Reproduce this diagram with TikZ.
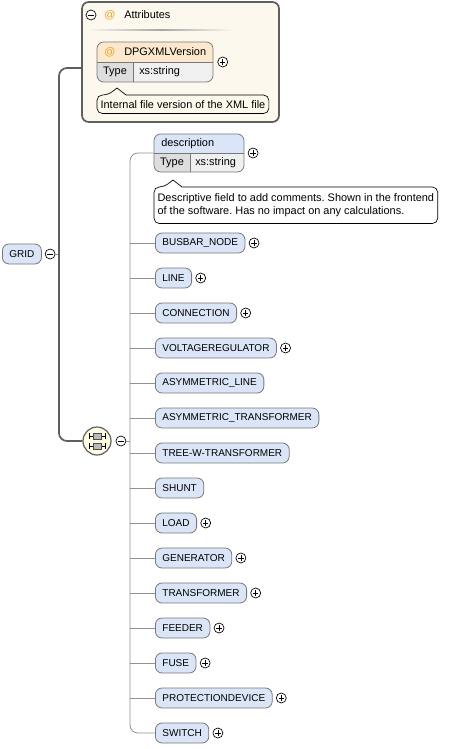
\documentclass[tikz,border=0pt]{standalone}
\usepackage{fontspec}
\setmainfont{Liberation Sans}
\usetikzlibrary{positioning}
\frenchspacing

\definecolor{elemfill}{RGB}{218,229,247}
\definecolor{elemline}{RGB}{120,120,120}
\definecolor{attrback}{RGB}{253,248,237}
\definecolor{attrhead}{RGB}{252,233,205}
\definecolor{typecell}{RGB}{222,222,222}
\definecolor{valcell}{RGB}{240,240,240}
\definecolor{atorange}{RGB}{238,160,40}
\definecolor{seqback}{RGB}{255,251,226}
\definecolor{darklink}{RGB}{95,95,95}
\definecolor{lightlink}{RGB}{145,145,145}

\tikzset{
  captxt/.style={font=\fontsize{7.5}{9}\selectfont, inner sep=0pt},
  lowtxt/.style={font=\fontsize{8.2}{9.75}\selectfont, inner sep=0pt},
  elem/.style={captxt, draw=elemline, line width=0.6pt, fill=elemfill, rounded corners=5pt,
    minimum height=15pt, inner xsep=5.25pt, anchor=west},
  btn/.style={circle, draw=black, fill=white, line width=0.5pt, minimum size=7.5pt, inner sep=0pt},
  plusbtn/.style={btn, path picture={
      \draw[line width=0.5pt] ([xshift=-2pt]path picture bounding box.center) -- ([xshift=2pt]path picture bounding box.center)
        ([yshift=-2pt]path picture bounding box.center) -- ([yshift=2pt]path picture bounding box.center);}},
  minusbtn/.style={btn, path picture={
      \draw[line width=0.5pt] ([xshift=-2pt]path picture bounding box.center) -- ([xshift=2pt]path picture bounding box.center);}},
  tipnode/.style={lowtxt, align=left, inner xsep=2.5pt},
  tipline/.style={draw=black, line width=0.5pt},
  childlink/.style={draw=lightlink, line width=0.6pt},
  mainlink/.style={draw=darklink, line width=1.3pt},
}

\begin{document}
\begin{tikzpicture}[x=0.75pt, y=-0.75pt]
\useasboundingbox (0,0) rectangle (466,749);

% attributes group
\node[draw=darklink, line width=1.3pt, fill=attrback, rounded corners=5pt,
  minimum width=147.75pt, minimum height=90pt] (attrs) at (180.5,62) {};
\shade[left color=attrback, right color=attrback, middle color=gray!70] (87,29.5) rectangle (233,31);
\node[minusbtn] (attrsminus) at (91,15) {};
\node[lowtxt, text=atorange] (attrsat) at (110,15) {@};
\node[lowtxt, anchor=west] (attrstitle) at (124,15) {Attributes};

\begin{scope}
\clip[rounded corners=5pt] (97,42) rectangle (213,82);
\fill[attrhead] (97,42) rectangle (213,62);
\fill[typecell] (97,62) rectangle (133,82);
\fill[valcell] (133,62) rectangle (213,82);
\end{scope}
\node[draw=elemline, line width=0.6pt, rounded corners=5pt, minimum width=87pt, minimum height=30pt] (version) at (155,62) {};
\draw[elemline, line width=0.5pt] (version.west) -- (version.east) (133,62) -- (133,82);
\node[lowtxt, text=atorange] (versionat) at (110,52) {@};
\node[lowtxt, anchor=west] (versionname) at (124,52) {DPGXMLVersion};
\node[lowtxt] (versiontype) at (115,72) {Type};
\node[lowtxt, anchor=west] (versionval) at (139,72) {xs:string};
\node[plusbtn, right=3pt of version] (versionplus) {};

\node[tipnode, minimum height=13.5pt, anchor=north west] (versiontip) at (97,95) {Internal file version of the XML file};
\draw[tipline, rounded corners=4pt] (versiontip.north west) ++(11,0) [sharp corners] -- ++(9,-7) -- ++(9,7)
  [rounded corners=4pt] -| (versiontip.south east) -| (versiontip.north west) -- cycle;

% root
\node[elem] (grid) at (2,254) {GRID};
\node[minusbtn, right=2.25pt of grid] (gridminus) {};
\coordinate (gridtrunk) at (59,254);
\draw[childlink] (gridminus) -- (gridtrunk);

% sequence
\node[circle, draw=darklink, line width=0.9pt, fill=seqback, minimum size=21pt] (seq) at (97,441) {};
\foreach \dy in {-5,5} {
  \draw[line width=0.6pt] ([shift={(-8,\dy)}]seq.center) -- ++(16,0);
  \draw[line width=0.6pt] ([shift={(-8,\dy-3)}]seq.center) -- ++(0,6);
  \draw[line width=0.6pt] ([shift={(8,\dy-3)}]seq.center) -- ++(0,6);
  \draw[line width=0.5pt, draw=gray!60!black, fill=gray!55] ([shift={(-4,\dy-3)}]seq.center) rectangle ++(8,6);
}
\node[minusbtn, right=3pt of seq] (seqminus) {};
\coordinate (seqtrunk) at (130,441);
\draw[childlink] (seqminus) -- (seqtrunk);

\draw[mainlink, rounded corners=6pt] ([yshift=-4.5pt]attrs.west) -| (gridtrunk) |- (seq);

% description
\begin{scope}
\clip[rounded corners=5pt] (154,134) rectangle (244,172);
\fill[elemfill] (154,134) rectangle (244,153);
\fill[typecell] (154,153) rectangle (190,172);
\fill[valcell] (190,153) rectangle (244,172);
\end{scope}
\node[draw=elemline, line width=0.6pt, rounded corners=5pt, minimum width=67.5pt, minimum height=28.5pt] (desc) at (199,153) {};
\draw[elemline, line width=0.5pt] (desc.west) -- (desc.east) (190,153) -- (190,172);
\node[lowtxt, anchor=west] (descname) at (161,144) {description};
\node[lowtxt] (desctype) at (172,163) {Type};
\node[lowtxt, anchor=west] (descval) at (195,163) {xs:string};
\node[plusbtn, right=2.5pt of desc] (descplus) {};

\node[tipnode, minimum height=27pt, anchor=north west] (desctip) at (154,187)
  {Descriptive field to add comments. Shown in the frontend\\of the software. Has no impact on any calculations.};
\draw[tipline, rounded corners=4pt] (desctip.north west) ++(10,0) [sharp corners] -- ++(9,-7) -- ++(9,7)
  [rounded corners=4pt] -| (desctip.south east) -| (desctip.north west) -- cycle;

% children
\node[elem] (busbar) at (155,243) {BUSBAR\_NODE};
\node[elem] (line) at (155,278) {LINE};
\node[elem] (connection) at (155,313) {CONNECTION};
\node[elem] (voltreg) at (155,348) {VOLTAGEREGULATOR};
\node[elem] (asymline) at (155,383) {ASYMMETRIC\_LINE};
\node[elem] (asymtrafo) at (155,418) {ASYMMETRIC\_TRANSFORMER};
\node[elem] (treetrafo) at (155,453) {TREE-W-TRANSFORMER};
\node[elem] (shunt) at (155,488) {SHUNT};
\node[elem] (load) at (155,523) {LOAD};
\node[elem] (generator) at (155,558) {GENERATOR};
\node[elem] (trafo) at (155,593) {TRANSFORMER};
\node[elem] (feeder) at (155,628) {FEEDER};
\node[elem] (fuse) at (155,663) {FUSE};
\node[elem] (protdev) at (155,698) {PROTECTIONDEVICE};
\node[elem] (switch) at (155,733) {SWITCH};

\node[plusbtn, right=2.5pt of busbar] (busbarplus) {};
\node[plusbtn, right=2.5pt of line] (lineplus) {};
\node[plusbtn, right=2.5pt of connection] (connectionplus) {};
\node[plusbtn, right=2.5pt of voltreg] (voltregplus) {};
\node[plusbtn, right=2.5pt of load] (loadplus) {};
\node[plusbtn, right=2.5pt of generator] (generatorplus) {};
\node[plusbtn, right=2.5pt of trafo] (trafoplus) {};
\node[plusbtn, right=2.5pt of feeder] (feederplus) {};
\node[plusbtn, right=2.5pt of fuse] (fuseplus) {};
\node[plusbtn, right=2.5pt of protdev] (protdevplus) {};
\node[plusbtn, right=2.5pt of switch] (switchplus) {};

% links to children
\draw[childlink, rounded corners=6pt] (desc.west) -| (seqtrunk) |- (switch.west);
\draw[childlink] (busbar.west) -- (busbar.west -| seqtrunk);
\draw[childlink] (line.west) -- (line.west -| seqtrunk);
\draw[childlink] (connection.west) -- (connection.west -| seqtrunk);
\draw[childlink] (voltreg.west) -- (voltreg.west -| seqtrunk);
\draw[childlink] (asymline.west) -- (asymline.west -| seqtrunk);
\draw[childlink] (asymtrafo.west) -- (asymtrafo.west -| seqtrunk);
\draw[childlink] (treetrafo.west) -- (treetrafo.west -| seqtrunk);
\draw[childlink] (shunt.west) -- (shunt.west -| seqtrunk);
\draw[childlink] (load.west) -- (load.west -| seqtrunk);
\draw[childlink] (generator.west) -- (generator.west -| seqtrunk);
\draw[childlink] (trafo.west) -- (trafo.west -| seqtrunk);
\draw[childlink] (feeder.west) -- (feeder.west -| seqtrunk);
\draw[childlink] (fuse.west) -- (fuse.west -| seqtrunk);
\draw[childlink] (protdev.west) -- (protdev.west -| seqtrunk);
\end{tikzpicture}
\end{document}
